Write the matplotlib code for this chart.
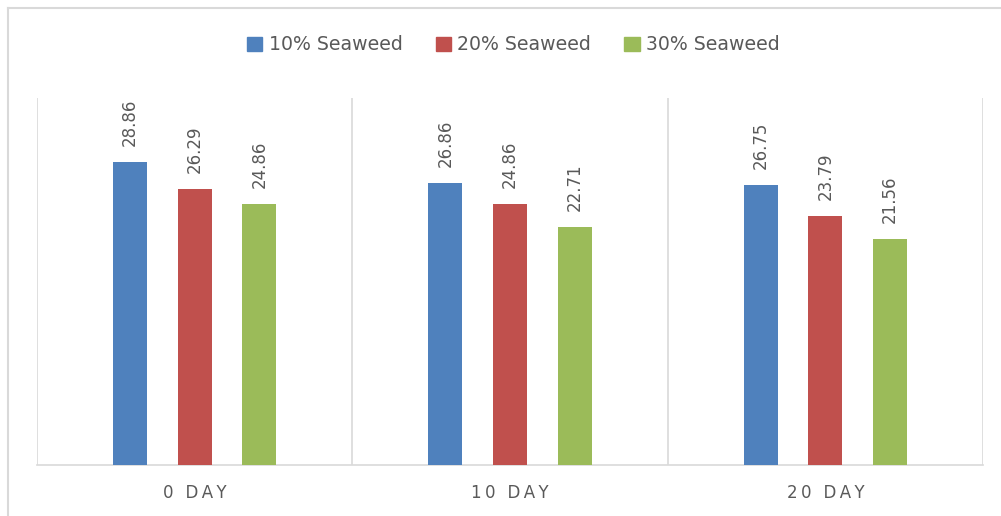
import matplotlib
matplotlib.use("Agg")
import matplotlib.pyplot as plt
from matplotlib.patches import Patch
from matplotlib.lines import Line2D
import numpy as np

categories = ["0 DAY", "10 DAY", "20 DAY"]
series_names = ["10% Seaweed", "20% Seaweed", "30% Seaweed"]
s10 = [28.86, 26.86, 26.75]
s20 = [26.29, 24.86, 23.79]
s30 = [24.86, 22.71, 21.56]
colors = ["#4F81BD", "#C0504D", "#9BBB59"]

txt = "#595959"
grid = "#D9D9D9"

fig = plt.figure(figsize=(10.01, 5.16), dpi=100)
ax = fig.add_axes([37/1001, 51/516, 946/1001, 367/516])

x = np.arange(len(categories))
offsets = [-0.205, 0.0, 0.205]
width = 0.108
for vals, off, c, name in zip([s10, s20, s30], offsets, colors, series_names):
    bars = ax.bar(x + off, vals, width, color=c, label=name, zorder=3)
    for b, v in zip(bars, vals):
        ax.annotate(f"{v:.2f}", (b.get_x() + b.get_width()/2, v),
                    xytext=(0, 11.5), textcoords="offset points",
                    rotation=90, ha="center", va="bottom",
                    fontsize=12, color=txt)

ax.set_xlim(-0.5, 2.5)
ax.set_ylim(0, 35)
for sep in [-0.5, 0.5, 1.5, 2.5]:
    ax.axvline(sep, color=grid, lw=1.2, zorder=1)
for s in ["top", "left", "right"]:
    ax.spines[s].set_visible(False)
ax.spines["bottom"].set_color(grid)
ax.spines["bottom"].set_linewidth(1.2)
ax.set_yticks([])
ax.set_xticks(x)
ax.set_xticklabels(["\u2009".join(list(c)) for c in categories],
                   fontsize=12, color=txt)
ax.tick_params(axis="x", length=0, pad=14)

handles = [Patch(color=c) for c in colors]
fig.legend(handles, series_names, loc="center", bbox_to_anchor=(0.513, 0.913),
           ncol=3, frameon=False, fontsize=13.6, labelcolor=txt,
           handlelength=0.8, handleheight=0.8, handletextpad=0.35,
           columnspacing=1.75)

bx = 7.5/1001
by = 1 - 7.5/516
fig.add_artist(Line2D([bx, bx], [0, by], transform=fig.transFigure,
                      color=grid, lw=1.5))
fig.add_artist(Line2D([bx, 1], [by, by], transform=fig.transFigure,
                      color=grid, lw=1.5))

fig.savefig("out.png", dpi=100)
